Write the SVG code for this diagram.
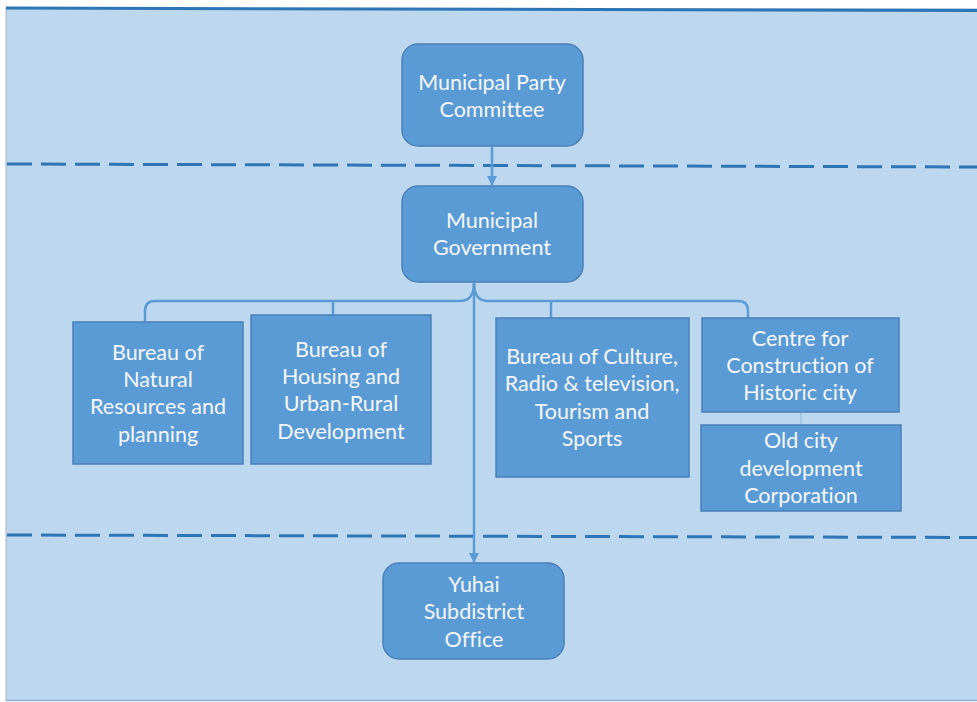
<svg xmlns="http://www.w3.org/2000/svg" width="977" height="702" viewBox="0 0 977 702">
  <defs>
    <style>
      .node { fill: #5B9BD5; stroke: #4A80B8; stroke-width: 1.5; }
      .label { font-family: Lato, "Open Sans", sans-serif; font-size: 21.5px; fill: #F4F7FB; text-anchor: middle; font-variant-ligatures: none; }
      .link { fill: none; stroke: #5B9BD5; stroke-width: 2.5; }
      .divider { fill: none; stroke: #2E75B6; stroke-width: 3; stroke-dasharray: 25 9; }
    </style>
    <marker id="arrow" viewBox="0 0 10 10" refX="9" refY="5" markerWidth="4" markerHeight="4" orient="auto" markerUnits="strokeWidth">
      <path d="M0,0 L10,5 L0,10 z" fill="#5B9BD5"/>
    </marker>
  </defs>

  <!-- page background -->
  <rect x="0" y="0" width="977" height="702" fill="#FFFFFF"/>
  <rect x="6" y="8" width="971" height="693" fill="#BDD7EE"/>
  <line x1="6" y1="8" x2="6" y2="701" stroke="#A9B4BF" stroke-width="1"/>
  <line x1="6" y1="700.5" x2="977" y2="700.5" stroke="#8FB4DC" stroke-width="1.5"/>
  <path d="M6,8 L977,10.5" stroke="#2E75B6" stroke-width="3" fill="none"/>

  <!-- level dividers -->
  <g id="dividers">
    <path class="divider" d="M7,164 L977,167"/>
    <path class="divider" d="M7,535 L977,537.5"/>
  </g>

  <!-- connectors -->
  <g id="connectors">
    <line class="link" x1="492" y1="147" x2="492" y2="185" marker-end="url(#arrow)"/>
    <line class="link" x1="474" y1="283" x2="474" y2="562" marker-end="url(#arrow)"/>
    <!-- branch bar from Municipal Government -->
    <path class="link" d="M474,283 Q474,301 460,301 L155,301 Q145,301 145,311 L145,322"/>
    <path class="link" d="M474,283 Q474,301 488,301 L738,301 Q748,301 748,311 L748,318"/>
    <line class="link" x1="333" y1="301" x2="333" y2="315"/>
    <line class="link" x1="551" y1="301" x2="551" y2="318"/>
    <line x1="801" y1="412" x2="801" y2="425" stroke="#9CC3E6" stroke-width="1.5"/>
  </g>

  <g id="party-committee">
    <rect class="node" x="402" y="44" width="181" height="102" rx="16"/>
    <text class="label" x="492" y="90">Municipal Party</text>
    <text class="label" x="492" y="117">Committee</text>
  </g>

  <g id="municipal-government">
    <rect class="node" x="402" y="186" width="181" height="96" rx="16"/>
    <text class="label" x="492" y="228">Municipal</text>
    <text class="label" x="492" y="255">Government</text>
  </g>

  <g id="natural-resources">
    <rect class="node" x="73" y="322" width="170" height="142"/>
    <text class="label" x="158" y="360">Bureau of</text>
    <text class="label" x="158" y="387">Natural</text>
    <text class="label" x="158" y="414">Resources and</text>
    <text class="label" x="158" y="442">planning</text>
  </g>

  <g id="housing">
    <rect class="node" x="251" y="315" width="180" height="149"/>
    <text class="label" x="341" y="357">Bureau of</text>
    <text class="label" x="341" y="384">Housing and</text>
    <text class="label" x="341" y="411">Urban-Rural</text>
    <text class="label" x="341" y="439">Development</text>
  </g>

  <g id="culture">
    <rect class="node" x="496" y="318" width="193" height="159"/>
    <text class="label" x="592" y="364">Bureau of Culture,</text>
    <text class="label" x="592" y="391">Radio &amp; television,</text>
    <text class="label" x="592" y="419">Tourism and</text>
    <text class="label" x="592" y="446">Sports</text>
  </g>

  <g id="historic-centre">
    <rect class="node" x="702" y="318" width="197" height="94"/>
    <text class="label" x="800" y="346">Centre for</text>
    <text class="label" x="800" y="373">Construction of</text>
    <text class="label" x="800" y="400">Historic city</text>
  </g>

  <g id="old-city">
    <rect class="node" x="701" y="425" width="200" height="86"/>
    <text class="label" x="801" y="448">Old city</text>
    <text class="label" x="801" y="476">development</text>
    <text class="label" x="801" y="503">Corporation</text>
  </g>

  <g id="yuhai">
    <rect class="node" x="383" y="563" width="181" height="96" rx="16"/>
    <text class="label" x="474" y="592">Yuhai</text>
    <text class="label" x="474" y="619">Subdistrict</text>
    <text class="label" x="474" y="647">Office</text>
  </g>
</svg>
